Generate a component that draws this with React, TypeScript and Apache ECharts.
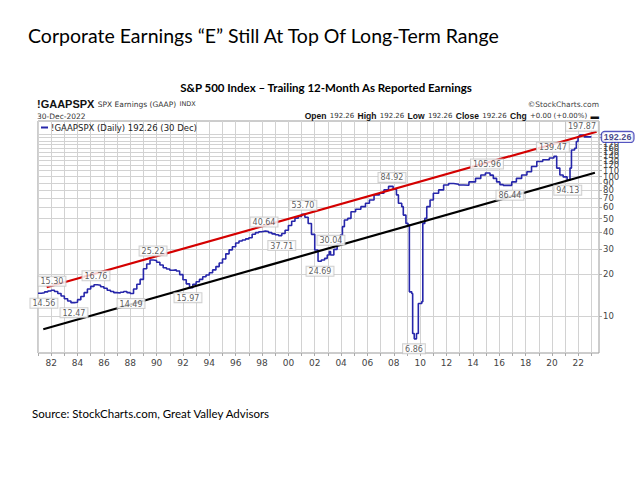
import React, { useEffect, useRef } from "react";
import * as echarts from "echarts";

// [year (report date), trailing 12-month as-reported EPS]
const epsSteps: [number, number][] = [
  [1981.0, 14.56], [1981.25, 14.7], [1981.5, 14.9], [1981.75, 15.1], [1982.0, 15.3], [1982.25, 15.0],
  [1982.5, 14.5], [1982.75, 13.9], [1983.0, 13.3], [1983.25, 12.8], [1983.5, 12.47], [1983.75, 12.55],
  [1984.0, 13.1], [1984.25, 13.8], [1984.5, 14.7], [1984.75, 15.6], [1985.0, 16.3], [1985.25, 16.76],
  [1985.5, 16.6], [1985.75, 16.2], [1986.0, 15.8], [1986.25, 15.3], [1986.5, 15.0], [1986.75, 14.7],
  [1987.0, 14.6], [1987.25, 14.8], [1987.5, 15.0], [1987.75, 14.7], [1988.0, 14.49], [1988.25, 15.6],
  [1988.5, 16.9], [1988.75, 18.3], [1989.0, 21.8], [1989.25, 23.6], [1989.5, 25.22], [1989.75, 25.0],
  [1990.0, 24.3], [1990.25, 23.2], [1990.5, 22.2], [1990.75, 21.7], [1991.0, 21.3], [1991.25, 21.4],
  [1991.5, 21.0], [1991.75, 19.8], [1992.0, 18.2], [1992.25, 17.0], [1992.5, 15.97], [1992.75, 16.9],
  [1993.0, 17.6], [1993.25, 18.3], [1993.5, 19.1], [1993.75, 19.7], [1994.0, 20.4], [1994.25, 21.4],
  [1994.5, 22.6], [1994.75, 24.0], [1995.0, 25.6], [1995.25, 27.9], [1995.5, 29.8], [1995.75, 31.4],
  [1996.0, 33.4], [1996.25, 34.5], [1996.5, 35.1], [1996.75, 35.7], [1997.0, 36.4], [1997.25, 38.6],
  [1997.5, 39.6], [1997.75, 40.2], [1998.0, 40.64], [1998.25, 40.3], [1998.5, 39.6], [1998.75, 38.8],
  [1999.0, 38.2], [1999.25, 37.71], [1999.5, 39.0], [1999.75, 41.2], [2000.0, 44.5], [2000.25, 47.8],
  [2000.5, 50.3], [2000.75, 51.8], [2001.0, 53.7], [2001.25, 51.0], [2001.5, 46.0], [2001.75, 38.5],
  [2002.0, 29.7], [2002.25, 24.69], [2002.5, 25.2], [2002.75, 25.9], [2002.95, 27.4], [2003.1, 29.0],
  [2003.2, 27.4], [2003.45, 30.04], [2003.7, 33.0], [2003.95, 38.1], [2004.1, 43.7], [2004.25, 48.8],
  [2004.5, 50.1], [2004.75, 55.9], [2005.1, 58.2], [2005.5, 60.8], [2005.85, 64.3], [2006.15, 67.9],
  [2006.5, 73.8], [2006.9, 75.9], [2007.25, 80.2], [2007.6, 84.92], [2007.95, 81.1], [2008.2, 73.8],
  [2008.35, 64.3], [2008.6, 60.8], [2008.72, 52.9], [2008.92, 46.1], [2009.08, 44.9], [2009.18, 14.9],
  [2009.36, 14.5], [2009.43, 7.5], [2009.55, 6.86], [2009.72, 7.5], [2009.86, 12.3], [2010.12, 12.67],
  [2010.2, 46.1], [2010.35, 50.1], [2010.5, 60.8], [2010.75, 67.9], [2011.0, 75.9], [2011.4, 80.2],
  [2011.78, 86.9], [2012.16, 89.0], [2012.54, 88.0], [2012.92, 86.9], [2013.3, 86.5], [2013.7, 91.5],
  [2014.2, 96.9], [2014.6, 102.5], [2014.95, 105.96], [2015.3, 102.3], [2015.55, 96.9], [2015.8, 91.5],
  [2016.05, 87.5], [2016.3, 86.44], [2016.95, 91.5], [2017.3, 96.9], [2017.7, 102.5], [2018.1, 108.3],
  [2018.45, 117.9], [2018.85, 128.2], [2019.3, 131.9], [2019.8, 135.6], [2020.15, 139.47], [2020.36, 114.9],
  [2020.6, 102.5], [2020.85, 99.4], [2021.15, 94.13], [2021.37, 114.9], [2021.48, 155.0], [2021.72, 159.5],
  [2021.85, 178.4], [2021.98, 193.8], [2022.1, 197.87], [2022.45, 192.26], [2022.99, 192.26],
];

const upperTrend: [number, number][] = [[1981.66, 16.06], [2023.39, 209.5]];
const lowerTrend: [number, number][] = [[1981.4, 8.03], [2023.26, 106.4]];

// [year, value, text, side]
const peakTroughLabels: [number, number, string, string][] = [
  [1982.06, 15.3, "15.30", "top"],
  [1981.45, 14.56, "14.56", "bottom"],
  [1983.73, 12.47, "12.47", "bottom"],
  [1985.4, 16.76, "16.76", "top"],
  [1988.06, 14.49, "14.49", "bottom"],
  [1989.73, 25.22, "25.22", "top"],
  [1992.38, 15.97, "15.97", "bottom"],
  [1998.15, 40.64, "40.64", "top"],
  [1999.5, 37.71, "37.71", "bottom"],
  [2001.1, 53.7, "53.70", "top"],
  [2002.4, 24.69, "24.69", "bottom"],
  [2003.23, 30.04, "30.04", "top"],
  [2007.86, 84.92, "84.92", "top"],
  [2009.53, 6.86, "6.86", "bottom"],
  [2015.07, 105.96, "105.96", "top"],
  [2016.81, 86.44, "86.44", "bottom"],
  [2020.07, 139.47, "139.47", "top"],
  [2021.2, 94.13, "94.13", "bottom"],
  [2022.28, 197.87, "197.87", "top"],
];

const lastValue: [number, number] = [2022.99, 192.26];
const yearTicks: number[] = [1981, 1982, 1983, 1984, 1985, 1986, 1987, 1988, 1989, 1990, 1991, 1992, 1993, 1994, 1995, 1996, 1997, 1998, 1999, 2000, 2001, 2002, 2003, 2004, 2005, 2006, 2007, 2008, 2009, 2010, 2011, 2012, 2013, 2014, 2015, 2016, 2017, 2018, 2019, 2020, 2021, 2022, 2023];
const yearLabels: number[] = [1982, 1984, 1986, 1988, 1990, 1992, 1994, 1996, 1998, 2000, 2002, 2004, 2006, 2008, 2010, 2012, 2014, 2016, 2018, 2020, 2022];
const priceTicks: number[] = [10, 20, 30, 40, 50, 60, 70, 80, 90, 100, 110, 120, 130, 140, 150, 160, 170, 180, 190, 200];
const priceLabels: number[] = [10, 20, 30, 40, 50, 60, 70, 80, 90, 100, 110, 120, 130, 140, 150, 160, 170, 180];

const lg = (v: number) => Math.log10(v);
const F = "DejaVu Sans";

export default function App() {
  const ref = useRef<HTMLDivElement>(null);
  useEffect(() => {
    if (!ref.current) return;
    const chart = echarts.init(ref.current, undefined, { renderer: "svg" });
    const option: any = {
      animation: false,
      backgroundColor: "#fff",
      grid: { left: 38, right: 41, top: 121, height: 232, show: true, borderColor: "#9a9a9a", borderWidth: 1, backgroundColor: "#fff" },
      xAxis: {
        type: "value", min: 1981, max: 2023.57,
        axisLine: { show: false },
        axisTick: { show: true, customValues: yearTicks, length: 3, lineStyle: { color: "#aaa" } },
        axisLabel: {
          customValues: yearLabels, fontSize: 9, color: "#444", fontFamily: F, margin: 5,
          formatter: (v: number) => String(Math.round(v) % 100).padStart(2, "0"),
        },
        splitLine: { show: true, lineStyle: { color: "#d2d2d2", width: 1 } },
      },
      yAxis: {
        type: "value", position: "right", min: lg(5.43), max: lg(250),
        axisLine: { show: false },
        axisTick: { show: true, customValues: priceTicks.map(lg), length: 3, lineStyle: { color: "#aaa" } },
        axisLabel: {
          customValues: priceLabels.map(lg), fontSize: 8.5, color: "#444", fontFamily: F, margin: 4,
          formatter: (v: number) => String(Math.round(Math.pow(10, v))),
        },
        splitLine: { show: true, lineStyle: { color: "#d2d2d2", width: 1 } },
      },
      series: [
        {
          type: "line", step: "end", showSymbol: false, silent: true,
          data: epsSteps.map(([x, v]) => [x, lg(v)]),
          lineStyle: { color: "#2626aa", width: 1.6 }, z: 3,
        },
        {
          type: "line", showSymbol: false, silent: true,
          data: upperTrend.map(([x, v]) => [x, lg(v)]),
          lineStyle: { color: "#d40000", width: 2.2 }, z: 4,
        },
        {
          type: "line", showSymbol: false, silent: true,
          data: lowerTrend.map(([x, v]) => [x, lg(v)]),
          lineStyle: { color: "#000", width: 2.2 }, z: 4,
        },
        {
          type: "scatter", symbolSize: 1, silent: true, z: 6,
          itemStyle: { color: "rgba(0,0,0,0)" },
          data: peakTroughLabels.map(([x, v, t, side]) => ({
            value: [x, lg(v)], name: t,
            label: { position: side, distance: side === "top" ? 4 : 5 },
          })),
          label: {
            show: true, formatter: (p: any) => p.name, fontSize: 8, fontFamily: F, color: "#333",
            backgroundColor: "#fff", borderColor: "#c4c4c4", borderWidth: 1, padding: [1, 2, 0, 2],
          },
        },
        {
          type: "scatter", symbolSize: 1, silent: true, z: 7,
          itemStyle: { color: "rgba(0,0,0,0)" },
          data: [{ value: [lastValue[0], lg(lastValue[1])], name: lastValue[1].toFixed(2) }],
          label: {
            show: true, position: "right", distance: 10, formatter: (p: any) => p.name,
            fontSize: 9, fontWeight: "bold", fontFamily: "Liberation Sans", color: "#15156e",
            backgroundColor: "#fff", borderColor: "#2a2ab0", borderWidth: 1.2, borderRadius: 3, padding: [1, 2, 0, 2],
          },
        },
      ],
      graphic: [
        { type: "text", x: 28, y: 35, style: { text: "Corporate Earnings “E” Still At Top Of Long-Term Range", font: "19.5px Lato", fill: "#000", verticalAlign: "middle" } },
        { type: "text", x: 326, y: 87, style: { text: "S&P 500 Index – Trailing 12-Month As Reported Earnings", font: "bold 11.5px Lato", fill: "#000", align: "center", verticalAlign: "middle" } },
        {
          type: "text", x: 37, y: 104,
          style: {
            text: "{b|!GAAPSPX} {n|SPX Earnings (GAAP)} {s|INDX}", verticalAlign: "middle",
            rich: {
              b: { fontFamily: "Liberation Sans", fontWeight: "bold", fontSize: 11, fill: "#111" },
              n: { fontFamily: F, fontSize: 7.5, fill: "#333" },
              s: { fontFamily: F, fontSize: 6.5, fill: "#333" },
            },
          },
        },
        { type: "text", x: 37, y: 116, style: { text: "30-Dec-2022", font: `7.5px '${F}'`, fill: "#333", verticalAlign: "middle" } },
        { type: "text", x: 599, y: 104, style: { text: "©StockCharts.com", font: `7.5px '${F}'`, fill: "#444", align: "right", verticalAlign: "middle" } },
        {
          type: "text", x: 599, y: 116,
          style: {
            text: "{b|Open} {n|192.26} {b|High} {n|192.26} {b|Low} {n|192.26} {b|Close} {n|192.26} {b|Chg} {n|+0.00 (+0.00%)} {b|▬}",
            align: "right", verticalAlign: "middle",
            rich: {
              b: { fontFamily: "Liberation Sans", fontWeight: "bold", fontSize: 8.5, fill: "#111" },
              n: { fontFamily: F, fontSize: 7, fill: "#333" },
            },
          },
        },
        { type: "line", shape: { x1: 41, y1: 127.5, x2: 48, y2: 127.5 }, style: { stroke: "#2626aa", lineWidth: 2 }, z: 10 },
        { type: "text", x: 51, y: 127.5, z: 10, style: { text: "!GAAPSPX (Daily) 192.26 (30 Dec)", font: `8.5px '${F}'`, fill: "#222", verticalAlign: "middle" } },
        { type: "text", x: 32, y: 413, style: { text: "Source: StockCharts.com, Great Valley Advisors", font: "11.5px Lato", fill: "#000", verticalAlign: "middle" } },
      ],
    };
    chart.setOption(option);
    return () => chart.dispose();
  }, []);
  return <div ref={ref} style={{ width: 640, height: 480, position: "absolute", left: 0, top: 0 }} />;
}
